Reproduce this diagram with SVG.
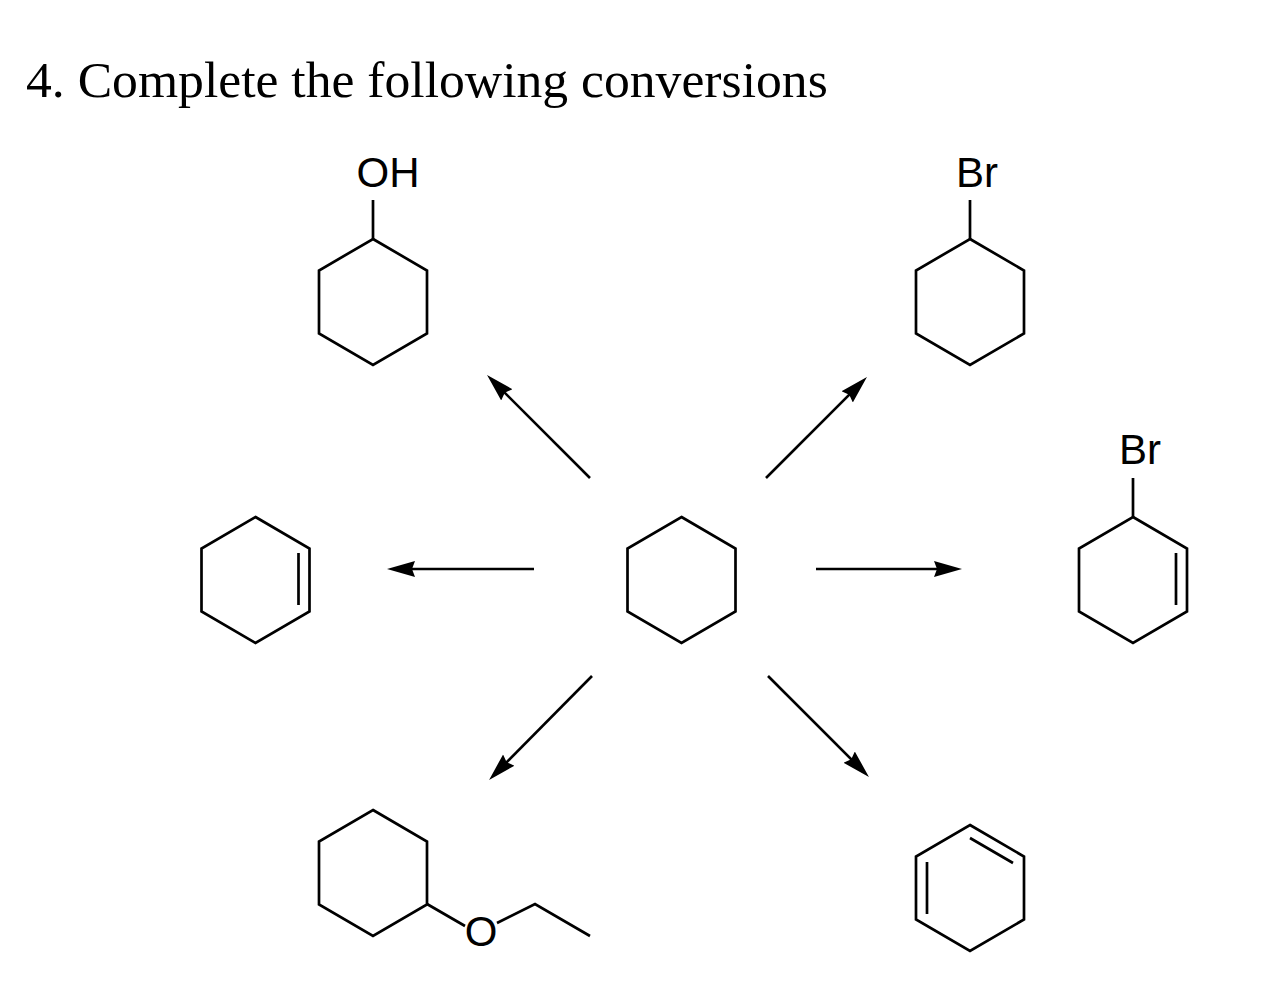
<svg xmlns="http://www.w3.org/2000/svg" width="1267" height="1000" viewBox="0 0 1267 1000">
<style>
.b{fill:none;stroke:#000;stroke-width:2.7;stroke-linejoin:miter;stroke-linecap:butt}
.a{fill:none;stroke:#000;stroke-width:2.6}
.t{font-family:"Liberation Sans",Arial,sans-serif;font-size:42px;fill:#000}
</style>
<defs>
<marker id="ah" markerUnits="userSpaceOnUse" markerWidth="29" markerHeight="18" refX="20" refY="8" orient="auto" viewBox="0 0 29 16"><path d="M0 0L28 8L0 16L3 8Z" fill="#000"/></marker>
<polygon id="hex" points="0,0 54,31.500 54,94.500 0,126 -54,94.500 -54,31.500"/>
</defs>
<rect width="1267" height="1000" fill="#fff"/>
<text x="26" y="97" font-family="'Liberation Serif','Times New Roman',serif" font-size="51.650" fill="#000">4. Complete the following conversions</text>
<g id="center"><use href="#hex" x="681.500" y="517" class="b"/></g>
<g id="oh"><use href="#hex" x="373" y="239" class="b"/><path class="b" d="M373 239V200"/><text class="t" x="388" y="187" text-anchor="middle">OH</text></g>
<g id="br"><use href="#hex" x="970" y="239" class="b"/><path class="b" d="M970 239V200"/><text class="t" x="977" y="187" text-anchor="middle">Br</text></g>
<g id="allyl"><use href="#hex" x="1133" y="517" class="b"/><path class="b" d="M1133 517V478M1176 553V605"/><text class="t" x="1140" y="464" text-anchor="middle">Br</text></g>
<g id="ene"><use href="#hex" x="255.500" y="517" class="b"/><path class="b" d="M298.500 553V605"/></g>
<g id="ether"><use href="#hex" x="373" y="810" class="b"/><path class="b" d="M427 904L465 926M497 923L535 904L590 936"/><text class="t" x="481" y="946" text-anchor="middle">O</text></g>
<g id="diene"><use href="#hex" x="970" y="825" class="b"/><path class="b" d="M970 838L1013 863M927 862V914"/></g>
<g id="connectors">
<path class="a" marker-end="url(#ah)" d="M590 478L492.700 380.700"/>
<path class="a" marker-end="url(#ah)" d="M766 478L861.300 382.700"/>
<path class="a" marker-end="url(#ah)" d="M534 569H395"/>
<path class="a" marker-end="url(#ah)" d="M816 569H954"/>
<path class="a" marker-end="url(#ah)" d="M592 676L494.700 774.300"/>
<path class="a" marker-end="url(#ah)" d="M768 676L863.300 771.300"/>
</g>
</svg>
